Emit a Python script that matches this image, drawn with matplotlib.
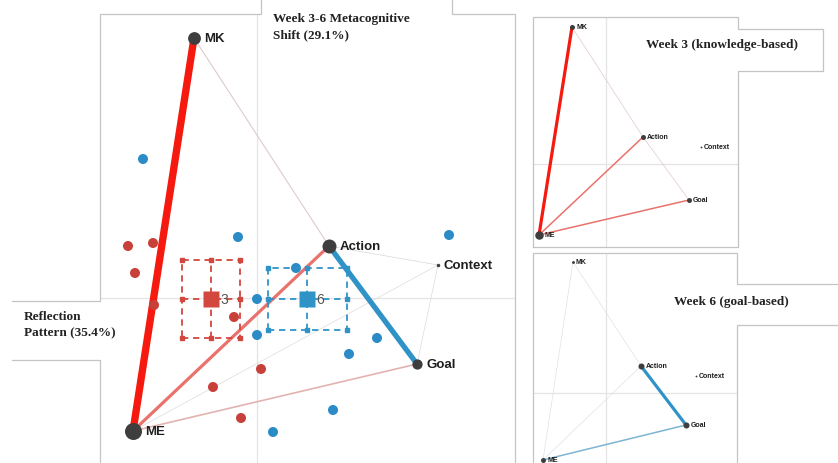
import matplotlib
matplotlib.use("Agg")
import matplotlib.pyplot as plt
from matplotlib.lines import Line2D
import numpy as np

W, H, DPI = 838, 464, 100

# ---- node layout (dimension scores) ----
node_names = ["MK", "ME", "Action", "Context", "Goal"]

shift_x = [-0.63, -1.24, 0.72, 1.81, 1.60]
shift_y = [2.60, -1.33, 0.52, 0.33, -0.66]
shift_strength = [0.72, 1.0, 0.8, 0.1, 0.55]

week3_x = [-0.68, -1.34, 0.74, 1.90, 1.66]
week3_y = [2.74, -1.42, 0.54, 0.34, -0.72]
week3_strength = [0.5, 1.0, 0.5, 0.05, 0.5]

week6_x = [-0.66, -1.26, 0.70, 1.80, 1.60]
week6_y = [2.62, -1.34, 0.54, 0.34, -0.64]
week6_strength = [0.2, 0.5, 0.65, 0.05, 0.65]

# ---- edges: positive = week 3 dominant, negative = week 6 dominant ----
shift_edges = [("Action", "Context", 0.04), ("ME", "Context", 0.03),
               ("Goal", "Context", 0.03), ("MK", "Action", 0.10),
               ("ME", "Goal", 0.18), ("ME", "Action", 0.40),
               ("Action", "Goal", -0.70), ("MK", "ME", 1.0)]
week3_edges = [("MK", "Action", 0.10), ("Action", "Goal", 0.10),
               ("ME", "Goal", 0.40), ("ME", "Action", 0.40),
               ("MK", "ME", 1.0)]
week6_edges = [("ME", "MK", -0.05), ("MK", "Action", -0.05),
               ("ME", "Action", -0.05), ("ME", "Goal", -0.40),
               ("Action", "Goal", -1.0)]

# ---- individual reflections ----
w3_students_x = [-1.29, -1.04, -1.22, -1.03, -0.23, 0.04, -0.44, -0.16]
w3_students_y = [0.52, 0.55, 0.25, -0.07, -0.19, -0.71, -0.89, -1.20]
w6_students_x = [-1.14, -0.19, 1.92, 0.39, 0.00, 0.00, 1.20, 0.92, 0.76, 0.16]
w6_students_y = [1.39, 0.61, 0.63, 0.30, -0.01, -0.37, -0.40, -0.56, -1.12, -1.34]

# ---- week centroids with spread ----
week_labels = ["3", "6"]
centroid_x = [-0.46, 0.50]
centroid_y = [-0.01, -0.01]
spread_x = [0.29, 0.395]
spread_y = [0.39, 0.31]

RED = np.array([245, 25, 15]) / 255
BLUE = np.array([47, 147, 200]) / 255
RED_DOT = "#c8403a"
BLUE_DOT = "#2a8bc6"
NODE = "#3e3e3e"
GRID = "#e4e4e4"
FRAME = "#c4c4c4"

fig = plt.figure(figsize=(W / DPI, H / DPI), dpi=DPI)
fig.patch.set_facecolor("white")


def fx(px):
    return px / W


def fy(py):
    return 1 - py / H


def panel(left, top, right, bottom, cx, cy, scale):
    ax = fig.add_axes([fx(left), fy(bottom), fx(right) - fx(left), fy(top) - fy(bottom)])
    ax.set_xlim((left - cx) / scale, (right - cx) / scale)
    ax.set_ylim((cy - bottom) / scale, (cy - top) / scale)
    ax.axis("off")
    ax.axhline(0, color=GRID, lw=0.9, zorder=0)
    ax.axvline(0, color=GRID, lw=0.9, zorder=0)
    return ax


def edge_color(w):
    base = RED if w > 0 else BLUE
    mute = np.array([222, 214, 214]) / 255 if w > 0 else np.array([216, 219, 222]) / 255
    k = float(np.clip((abs(w) - 0.06) / 0.64, 0, 1))
    return tuple(base * k + mute * (1 - k))


def draw_network(ax, xs, ys, strength, edges, width_scale, size_scale, size_base,
                 font_size, label_gap):
    pos = {n: (x, y) for n, x, y in zip(node_names, xs, ys)}
    for a, b, w in sorted(edges, key=lambda e: abs(e[2])):
        (x0, y0), (x1, y1) = pos[a], pos[b]
        ax.plot([x0, x1], [y0, y1], color=edge_color(w),
                lw=0.3 + width_scale * abs(w), solid_capstyle="round",
                zorder=2 + abs(w), clip_on=False)
    for n, x, y, s in zip(node_names, xs, ys, strength):
        d_px = size_base + size_scale * s
        ax.plot([x], [y], "o", ms=d_px * 0.72, color=NODE, mec="none",
                zorder=6, clip_on=False)
        ax.annotate(n, (x, y), xytext=((d_px / 2 + label_gap) * 0.72, 0),
                    textcoords="offset points", ha="left", va="center",
                    fontsize=font_size, fontweight="bold", color="#1e1e1e",
                    family=["Liberation Sans", "DejaVu Sans"], zorder=7)


# ---- main comparison panel ----
ax = panel(100, 15, 515, 464, 257, 299, 100)
draw_network(ax, shift_x, shift_y, shift_strength, shift_edges,
             width_scale=5.0, size_scale=15, size_base=2, font_size=9.5, label_gap=4)
ax.scatter(w3_students_x, w3_students_y, s=52, color=RED_DOT, edgecolors="none",
           zorder=4, clip_on=False)
ax.scatter(w6_students_x, w6_students_y, s=52, color=BLUE_DOT, edgecolors="none",
           zorder=4, clip_on=False)

for lab, cx, cy, sx, sy, col in zip(week_labels, centroid_x, centroid_y,
                                    spread_x, spread_y, ["#d2483f", "#2f93c8"]):
    x0, x1, y0, y1 = cx - sx, cx + sx, cy - sy, cy + sy
    dash = dict(color=col, lw=1.3, ls=(0, (3.5, 2.6)), zorder=5)
    ax.plot([x0, x1, x1, x0, x0], [y0, y0, y1, y1, y0], **dash)
    ax.plot([x0, x1], [cy, cy], **dash)
    ax.plot([cx, cx], [y0, y1], **dash)
    for xi in (x0, cx, x1):
        for yi in (y0, cy, y1):
            if xi == cx and yi == cy:
                continue
            ax.plot([xi], [yi], "s", ms=3.0, color=col, zorder=5)
    ax.plot([cx], [cy], "s", ms=11.5, color=col, mec="none", zorder=6)
    ax.annotate(lab, (cx, cy), xytext=(6.5, 0), textcoords="offset points",
                ha="left", va="center", fontsize=10, color="#555555",
                family=["Liberation Sans", "DejaVu Sans"], zorder=7)

# ---- week 3 panel ----
ax3 = panel(533, 18, 738, 248, 606, 165, 50)
draw_network(ax3, week3_x, week3_y, week3_strength, week3_edges,
             width_scale=2.0, size_scale=7, size_base=1.5, font_size=5, label_gap=1.5)

# ---- week 6 panel ----
ax6 = panel(533, 254, 737, 464, 606, 394, 50)
draw_network(ax6, week6_x, week6_y, week6_strength, week6_edges,
             width_scale=2.0, size_scale=7, size_base=1.5, font_size=5, label_gap=1.5)


# ---- panel frames with the caption boxes cut into them ----
def outline(points):
    xs, ys = zip(*points)
    fig.add_artist(Line2D([fx(p) for p in xs], [fy(p) for p in ys],
                          transform=fig.transFigure, color=FRAME, lw=0.9))


outline([(100, 470), (100, 361), (12, 361)])
outline([(12, 302), (100, 302), (100, 15), (261, 15), (261, -5)])
outline([(452, -5), (452, 15), (515, 15), (515, 470)])
outline([(533, 248), (533, 18), (738, 18), (738, 30), (823, 30), (823, 72),
         (738, 72), (738, 248), (533, 248)])
outline([(533, 470), (533, 254), (737, 254), (737, 285), (845, 285)])
outline([(845, 326), (737, 326), (737, 470)])

serif = dict(family=["Liberation Serif", "DejaVu Serif"], fontweight="bold",
             color="#222222", fontsize=9.5)
fig.text(fx(273), fy(13), "Week 3-6 Metacognitive\nShift (29.1%)", ha="left",
         va="top", linespacing=1.5, **serif)
fig.text(fx(24), fy(311), "Reflection\nPattern (35.4%)", ha="left", va="top",
         linespacing=1.5, **serif)
fig.text(fx(722), fy(45), "Week 3 (knowledge-based)", ha="center", va="center", **serif)
fig.text(fx(731), fy(302), "Week 6 (goal-based)", ha="center", va="center", **serif)

fig.savefig("out.png", dpi=DPI, facecolor="white")
